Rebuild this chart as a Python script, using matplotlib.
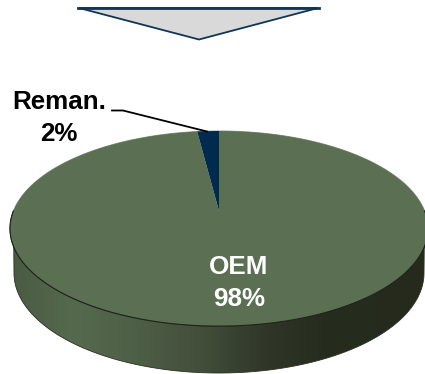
import matplotlib
matplotlib.use("Agg")

import matplotlib.pyplot as plt
import numpy as np

from matplotlib.colors import LinearSegmentedColormap
from matplotlib.patches import Polygon

# data
labels = ["Reman.", "OEM"]
shares = [2, 98]

TOP_GREEN = "#5b7052"
NAVY = "#002b4f"

# pie geometry, in pixels of the picture
APEX_X = 219
APEX_Y = 211
RADIUS_X = 205.6
RADIUS_Y = 94.4
TILT = 0.18
DEPTH_CENTER_Y = 273
DEPTH_RX = 205
DEPTH_RY = 100


def project(theta):
    # theta runs clockwise from 12 o'clock, the near edge of the disc looks bigger
    u = np.sin(theta)
    v = np.cos(theta)
    w = 1 + TILT * v
    return APEX_X + RADIUS_X * u / w, APEX_Y - RADIUS_Y * v / w


def wedge_points(start, stop):
    theta = np.linspace(start, stop, 300)
    x, y = project(theta)
    return np.column_stack([np.r_[APEX_X, x], np.r_[APEX_Y, y]])


fig = plt.figure(figsize=(4.25, 3.74), dpi=100)
ax = fig.add_axes([0, 0, 1, 1])
ax.set_xlim(0, 425)
ax.set_ylim(374, 0)
ax.axis("off")

plt.rcParams["font.family"] = ["Liberation Sans", "DejaVu Sans"]

# arrow shape on top
ax.add_patch(Polygon(
    [(79, 8), (318, 8), (199, 39.5)],
    closed=True,
    facecolor="#d9d9d9",
    edgecolor="#0f3557",
    linewidth=1.3,
    zorder=2,
))
ax.plot([78, 319], [7.5, 7.5], color="#0f3557", linewidth=2, zorder=3)

# side of the disc
top_x, top_y = project(np.linspace(np.pi * 1.5, np.pi * 0.5, 400))
side_angle = np.linspace(np.pi, 0, 400)
low_x = APEX_X + DEPTH_RX * np.cos(side_angle)
low_y = DEPTH_CENTER_Y + DEPTH_RY * np.sin(side_angle)
side = Polygon(
    np.column_stack([np.r_[top_x, low_x[::-1]], np.r_[top_y, low_y[::-1]]]),
    closed=True,
    facecolor="none",
    edgecolor="#2a3022",
    linewidth=0.6,
    zorder=3,
)
ax.add_patch(side)

side_cmap = LinearSegmentedColormap.from_list(
    "side",
    [
        (0.0, "#4a5a44"),
        (0.15, "#556a4d"),
        (0.30, "#4e5f47"),
        (0.45, "#434f3b"),
        (0.62, "#2f3628"),
        (0.75, "#262c1e"),
        (1.0, "#252a1c"),
    ],
)
gradient = ax.imshow(
    np.linspace(0, 1, 256).reshape(1, -1),
    extent=(10, 428, 374, 200),
    cmap=side_cmap,
    aspect="auto",
    zorder=2,
)
gradient.set_clip_path(side)
ax.set_xlim(0, 425)
ax.set_ylim(374, 0)

# top face, one wedge per share
edges = np.cumsum([0] + shares) / sum(shares) * 2 * np.pi
# Reman. ends at 12 o'clock, going clockwise the OEM slice comes first
oem_points = wedge_points(0, edges[2] - edges[1])
reman_points = wedge_points(-(edges[1] - edges[0]), 0)
ax.add_patch(Polygon(oem_points, closed=True, facecolor=TOP_GREEN, edgecolor="none", zorder=4))
ax.add_patch(Polygon(reman_points, closed=True, facecolor=NAVY, edgecolor="none", zorder=5))

# rim, dark at the front and soft at the back
front_x, front_y = project(np.linspace(np.pi * 0.5, np.pi * 1.5, 300))
back_x, back_y = project(np.linspace(-np.pi * 0.5, np.pi * 0.5, 300))
ax.plot(front_x, front_y, color="#1d2318", linewidth=0.8, zorder=6)
ax.plot(back_x, back_y, color="#8a9484", linewidth=0.7, zorder=3.5)

# leader line
ax.plot([112, 123, 207], [110.5, 110.5, 131.5], color="black", linewidth=1.3, zorder=7)

# labels
ax.text(59, 102, labels[0], fontsize=18.7, fontweight="bold", color="black", ha="center", va="center", zorder=8)
ax.text(59, 134, f"{shares[0]}%", fontsize=18.7, fontweight="bold", color="black", ha="center", va="center", zorder=8)
ax.text(239, 267, labels[1], fontsize=18.7, fontweight="bold", color="white", ha="center", va="center", zorder=8)
ax.text(239, 299, f"{shares[1]}%", fontsize=18.7, fontweight="bold", color="white", ha="center", va="center", zorder=8)

fig.savefig("out.png", dpi=100)
